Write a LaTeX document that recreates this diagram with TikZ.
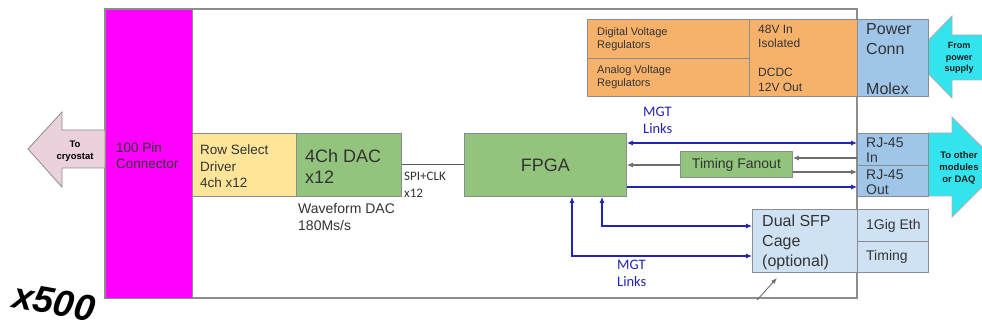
\documentclass[tikz,border=0pt]{standalone}
\usepackage{fontspec}
\setmainfont{Liberation Sans}
\newfontfamily\calib{Carlito}
\usetikzlibrary{arrows.meta,calc}
\definecolor{bordergrey}{HTML}{8C8C8C}
\definecolor{magentafill}{HTML}{FF00FF}
\definecolor{pinkfill}{HTML}{EAD1DC}
\definecolor{yellowfill}{HTML}{FFE599}
\definecolor{greenfill}{HTML}{93C47D}
\definecolor{orangefill}{HTML}{F6B26B}
\definecolor{bluefill}{HTML}{9FC5E8}
\definecolor{paleblue}{HTML}{CFE2F3}
\definecolor{cyanfill}{HTML}{33E3EE}
\definecolor{linkblue}{HTML}{2424B4}
\definecolor{wiregrey}{HTML}{6E6E6E}
\definecolor{txtgrey}{HTML}{333333}
\begin{document}
\begin{tikzpicture}[x=1pt,y=-1pt,
  blk/.style={draw=bordergrey, line width=0.9pt, rectangle, inner sep=0pt, anchor=north west},
  ltxt/.style={anchor=west, align=left, inner sep=0pt, text=black},
  ctxt/.style={align=center, inner sep=0pt, text=black},
  bigf/.style={font=\fontsize{18}{21}\selectfont},
  midf/.style={font=\fontsize{16}{20}\selectfont},
  normf/.style={font=\fontsize{13.5}{16.5}\selectfont},
  rjf/.style={font=\fontsize{14}{15}\selectfont},
  smallf/.style={font=\fontsize{11}{13}\selectfont},
  arrf/.style={font=\fontsize{9.5}{12}\selectfont\bfseries},
  blueln/.style={draw=linkblue, line width=1.1pt},
  wire/.style={draw=wiregrey, line width=1.1pt},
  tip/.style={-{Latex[length=6pt,width=5pt]}},
  bitip/.style={{Latex[length=6pt,width=5pt]}-{Latex[length=6pt,width=5pt]}},
  bluelbl/.style={font=\calib\fontsize{14.5}{16.5}\selectfont, text=linkblue, align=left, anchor=north west, inner sep=0pt}
]
\useasboundingbox (0,0) rectangle (982,331);
\fill[white] (0,0) rectangle (982,331);

% board
\draw[draw=bordergrey, line width=1.2pt] (105,9) rectangle (857,298);

% big arrows (clipped to picture)
\begin{scope}
\clip (0,0) rectangle (982,331);
\draw[fill=pinkfill, draw=bordergrey, line width=0.8pt]
  (105,130) -- (62,130) -- (62,112) -- (28,149) -- (62,187) -- (62,168) -- (105,168) -- cycle;
\draw[fill=cyanfill, draw=bordergrey!70, line width=0.8pt]
  (1000,35) -- (952,35) -- (952,16) -- (912,57) -- (952,98) -- (952,80) -- (1000,80);
\draw[fill=cyanfill, draw=bordergrey!70, line width=0.8pt]
  (928,133) -- (952,133) -- (952,117) -- (1002,167) -- (952,217) -- (952,196) -- (928,196) -- cycle;
\end{scope}
\node[ctxt, arrf] (cryoT) at (75,151) {To\\cryostat};
\node[ctxt, arrf, font=\fontsize{9}{11.5}\selectfont\bfseries, text=txtgrey!60!black] (psT) at (959,58) {From\\power\\supply};
\node[ctxt, arrf, font=\fontsize{9.5}{12}\selectfont\bfseries, text=txtgrey!60!black] (daqT) at (959,168) {To other\\modules\\or DAQ};

% 100 pin connector
\node[blk, fill=magentafill, minimum width=87pt, minimum height=289pt] (conn) at (105,9) {};
\node[ltxt, normf, text=txtgrey] (connT) at ([xshift=11pt,yshift=-1.5pt]conn.west) {100 Pin\\Connector};

% row select / DAC / FPGA
\node[blk, fill=yellowfill, minimum width=104pt, minimum height=63pt] (row) at (192,133) {};
\node[ltxt, normf, text=txtgrey] (rowT) at ([xshift=8pt,yshift=-1.5pt]row.west) {Row Select\\Driver\\4ch x12};
\node[blk, fill=greenfill, minimum width=105pt, minimum height=63pt] (dac) at (296,133) {};
\node[ltxt, bigf, text=txtgrey] (dacT) at ([xshift=9pt,yshift=-2pt]dac.west) {4Ch DAC\\x12};
\node[blk, fill=greenfill, minimum width=162pt, minimum height=63pt] (fpga) at (464,133) {};
\node[ctxt, bigf, text=txtgrey] (fpgaT) at (fpga.center) {FPGA};

\node[anchor=north west, align=left, inner sep=0pt, font=\fontsize{14}{17}\selectfont, text=txtgrey] (wavT) at (298,203) {Waveform DAC\\180Ms/s};
\node[anchor=north west, align=left, inner sep=0pt, font=\calib\fontsize{13}{17}\selectfont, text=txtgrey] (spiT) at (404,172) {SPI+CLK\\x12};

% power section
\node[blk, fill=orangefill, minimum width=162pt, minimum height=39pt] (digi) at (587,19) {};
\node[ltxt, smallf, text=txtgrey] (digiT) at ([xshift=10pt]digi.west) {Digital Voltage\\Regulators};
\node[blk, fill=orangefill, minimum width=162pt, minimum height=38pt] (ana) at (587,58) {};
\node[ltxt, smallf, text=txtgrey] (anaT) at ([xshift=10pt]ana.west) {Analog Voltage\\Regulators};
\node[blk, fill=orangefill, minimum width=108pt, minimum height=77pt] (dcdc) at (749,19) {};
\node[ltxt, font=\fontsize{12}{14.5}\selectfont, text=txtgrey] (dcdcT) at ([xshift=9pt]dcdc.west) {48V In\\Isolated\\\mbox{}\\DCDC\\12V Out};
\node[blk, fill=bluefill, minimum width=71pt, minimum height=77pt] (pconn) at (857,19) {};
\node[ltxt, midf, text=txtgrey] (pconnT) at ([xshift=9pt,yshift=-1pt]pconn.west) {Power\\Conn\\\mbox{}\\Molex};

% RJ-45
\node[blk, fill=bluefill, minimum width=71pt, minimum height=32pt] (rjin) at (857,133) {};
\node[ltxt, rjf, text=txtgrey] (rjinT) at ([xshift=9pt,yshift=-1pt]rjin.west) {RJ-45\\In};
\node[blk, fill=bluefill, minimum width=71pt, minimum height=31pt] (rjout) at (857,165) {};
\node[ltxt, rjf, text=txtgrey] (rjoutT) at ([xshift=9pt,yshift=-1pt]rjout.west) {RJ-45\\Out};

% timing fanout
\node[blk, fill=greenfill, minimum width=112pt, minimum height=26pt] (tf) at (680,151) {};
\node[ctxt, rjf, text=txtgrey] (tfT) at (tf.center) {Timing Fanout};

% SFP
\node[blk, fill=paleblue, minimum width=105pt, minimum height=63pt] (sfp) at (752,209) {};
\node[ltxt, midf, text=txtgrey] (sfpT) at ([xshift=10pt,yshift=-1pt]sfp.west) {Dual SFP\\Cage\\(optional)};
\node[blk, fill=paleblue, minimum width=71pt, minimum height=32pt] (geth) at (857,209) {};
\node[ltxt, rjf, text=txtgrey] (gethT) at ([xshift=9pt]geth.west) {1Gig Eth};
\node[blk, fill=paleblue, minimum width=71pt, minimum height=31pt] (tim) at (857,241) {};
\node[ltxt, rjf, text=txtgrey] (timT) at ([xshift=9pt]tim.west) {Timing};

% connectors
\draw[wire, draw=txtgrey!80] (dac.east) -- (fpga.west);
\draw[blueln, bitip] (fpga.east |- 0,143) -- (rjin.west |- 0,143);
\draw[wire, tip] (rjin.west |- 0,158) -- (tf.east |- 0,158);
\draw[wire, tip] (tf.west |- 0,165) -- (fpga.east |- 0,165);
\draw[wire, tip] (tf.east |- 0,172) -- (rjout.west |- 0,172);
\draw[blueln, tip] (fpga.east |- 0,187) -- (rjout.west |- 0,187);
\draw[blueln, bitip] (602,0 |- fpga.south) |- (sfp.west |- 0,226);
\draw[blueln, bitip] (572,0 |- fpga.south) |- (sfp.west |- 0,256);

\node[bluelbl] (mgt1) at (643,107) {MGT\\Links};
\node[bluelbl] (mgt2) at (617,260) {MGT\\Links};

% pointer
\coordinate (ptr) at (757,300);
\draw[wire, line width=0.9pt, -{Latex[length=6pt,width=4.5pt]}] (ptr) -- ($(sfp.south west)+(25,5)$);

% multiplier
\node[rotate=-10, inner sep=0pt, font=\fontsize{37}{40}\selectfont\bfseries\itshape] (mult) at (54,302) {x500};
\end{tikzpicture}
\end{document}
